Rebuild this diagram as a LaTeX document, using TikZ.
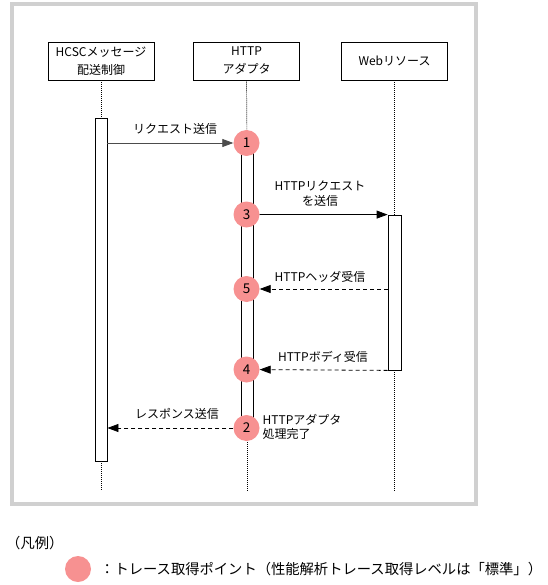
\documentclass[tikz,border=0pt]{standalone}
\usepackage{fontspec}
\setmainfont{Noto Sans CJK JP}
\usetikzlibrary{arrows.meta}
\definecolor{ptc}{RGB}{247,145,145}
\definecolor{framec}{RGB}{208,208,208}
\newcommand{\fs}{\fontsize{12}{14.5}\selectfont}
\newcommand{\fb}{\fontsize{12}{18}\selectfont}
\newcommand{\fn}{\fontsize{13.5}{14}\selectfont}
\newcommand{\fl}{\fontsize{14.3}{16}\selectfont}
\begin{document}
\begin{tikzpicture}[x=1pt,y=-1pt,
  actor/.style={draw, line width=0.8pt, minimum width=106pt, minimum height=38pt, align=center, inner sep=0pt, font=\fb},
  bar/.style={draw, fill=white, line width=0.8pt, inner sep=0pt},
  tp/.style={circle, fill=ptc, minimum size=26pt, inner sep=0pt, font=\fn},
  msg/.style={-{Triangle[length=11pt,width=8pt]}, line width=0.8pt},
  ret/.style={msg, dash pattern=on 4pt off 3pt},
  life/.style={line width=0.7pt, dash pattern=on 1pt off 1pt},
  lbl/.style={font=\fs, inner sep=0pt, align=center}]
\useasboundingbox (0,0) rectangle (547,585);
% frame
\draw[framec, line width=3.5pt] (12,4) rectangle (476,504);
% actors
\node[actor] (hcsc) at (101,61) {HCSCメッセージ\\配送制御};
\node[actor] (http) at (246.5,61) {HTTP\\アダプタ};
\node[actor] (web) at (394.5,61) {Webリソース};
% activation bars
\node[bar, minimum width=12pt, minimum height=343pt] (b1) at (101,289.5) {};
\node[bar, minimum width=12pt, minimum height=285pt] (b2) at (247,285.5) {};
\node[bar, minimum width=13pt, minimum height=155pt] (b3) at (394.5,292.5) {};
% lifeline ends
\coordinate (e1) at (101,491);
\coordinate (e2) at (247,491);
\coordinate (e3) at (394.5,491);
\draw[life] (hcsc.south) -- (b1.north);
\draw[life] (b1.south) -- (e1);
\draw[life] (http.south) -- (b2.north);
\draw[life] (b2.south) -- (e2);
\draw[life] (web.south) -- (b3.north);
\draw[life] (b3.south) -- (e3);
% trace points
\node[tp] (c1) at (246.5,143) {1};
\node[tp] (c3) at (246.5,214.5) {3};
\node[tp] (c5) at (246.5,289) {5};
\node[tp] (c4) at (246.5,369.5) {4};
\node[tp] (c2) at (246.5,428) {2};
% messages
\draw[msg, black!70] (b1.east |- c1) -- (c1);
\draw[msg] (c3) -- (b3.north west);
\draw[ret] (b3.west |- c5) -- (c5);
\draw[ret] (b3.south west) -- (c4);
\draw[ret] (c2) -- (b1.east |- c2);
% labels
\node[lbl] (l1) at (175,129) {リクエスト送信};
\node[lbl] (l3) at (320,193.5) {HTTPリクエスト\\を送信};
\node[lbl] (l5) at (320,277) {HTTPヘッダ受信};
\node[lbl] (l4) at (323,357) {HTTPボディ受信};
\node[lbl] (l2) at (177,414) {レスポンス送信};
\node[lbl, anchor=west, align=left] (l6) at (262.5,427) {HTTPアダプタ\\処理完了};
% legend
\node[font=\fl, inner sep=0pt, anchor=west] (leg) at (6,543) {（凡例）};
\node[tp, minimum size=26pt] (lc) at (78,569) {};
\node[font=\fl, inner sep=0pt, anchor=west] (legt) at (100,569) {：トレース取得ポイント（性能解析トレース取得レベルは「標準」）};
\end{tikzpicture}
\end{document}
